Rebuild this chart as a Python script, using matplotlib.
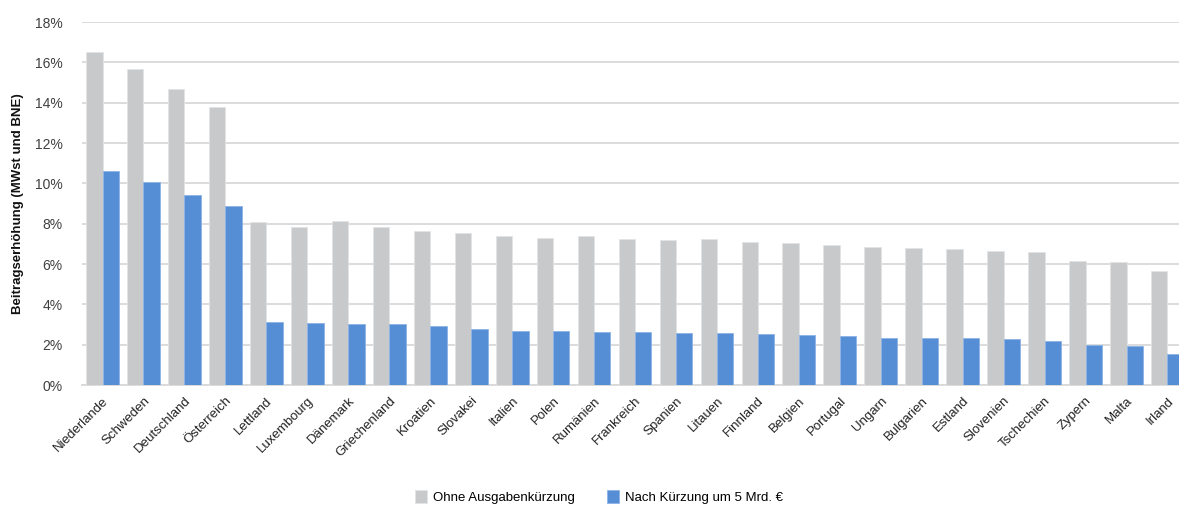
import numpy as np
import matplotlib
matplotlib.use("Agg")
import matplotlib.pyplot as plt
from matplotlib.ticker import FuncFormatter

plt.rcParams['font.family'] = ['Liberation Sans', 'DejaVu Sans']

countries = ['Niederlande', 'Schweden', 'Deutschland', 'Österreich', 'Lettland',
             'Luxembourg', 'Dänemark', 'Griechenland', 'Kroatien', 'Slovakei',
             'Italien', 'Polen', 'Rumänien', 'Frankreich', 'Spanien', 'Litauen',
             'Finnland', 'Belgien', 'Portugal', 'Ungarn', 'Bulgarien', 'Estland',
             'Slovenien', 'Tschechien', 'Zypern', 'Malta', 'Irland']

# Beitragserhöhung in %
ohne_kuerzung = [16.53, 15.65, 14.66, 13.78, 8.10, 7.82, 8.15, 7.84, 7.62, 7.54,
                 7.39, 7.30, 7.37, 7.24, 7.21, 7.24, 7.09, 7.02, 6.94, 6.84,
                 6.78, 6.74, 6.66, 6.59, 6.16, 6.11, 5.64]
nach_kuerzung = [10.61, 10.06, 9.42, 8.86, 3.14, 3.07, 3.02, 3.01, 2.93, 2.76,
                 2.68, 2.66, 2.63, 2.61, 2.58, 2.58, 2.51, 2.46, 2.43, 2.33,
                 2.33, 2.31, 2.26, 2.16, 1.96, 1.91, 1.53]

grey = '#C8C9CB'
blue = '#558ED5'

fig = plt.figure(figsize=(11.79, 5.07), dpi=100)
ax = fig.add_axes([0.0696, 0.2406, 0.938, 0.716])

x = np.arange(len(countries))
w = 0.4
ax.bar(x - w/2, ohne_kuerzung, w, color=grey, edgecolor='#E2E3E5', linewidth=0.6,
       label='Ohne Ausgabenkürzung', zorder=3)
ax.bar(x + w/2, nach_kuerzung, w, color=blue, edgecolor='#8DB4E6', linewidth=0.6,
       label='Nach Kürzung um 5 Mrd. €', zorder=3)

ax.set_xlim(-0.5, len(countries) - 0.5)
ax.set_ylim(0, 18)
ax.set_yticks(np.arange(0, 19, 2))
ax.yaxis.set_major_formatter(FuncFormatter(lambda v, p: f'{v:.0f}%'))
ax.grid(axis='y', color='#D9D9D9', linewidth=1.3, zorder=0)
ax.set_axisbelow(True)

for s in ['top', 'right', 'left']:
    ax.spines[s].set_visible(False)
ax.spines['bottom'].set_color('#D9D9D9')
ax.spines['bottom'].set_linewidth(1.3)

ax.set_xticks(x)
ax.set_xticklabels(countries, rotation=45, ha='right', rotation_mode='anchor',
                   fontsize=9.5, color='#222222')
ax.tick_params(axis='x', length=0, pad=7)
ax.tick_params(axis='y', length=0, pad=14, labelsize=10, labelcolor='#404040')

ax.set_ylabel('Beitragserhöhung (MWst und BNE)', fontsize=9.5, fontweight='bold',
              color='#111111', labelpad=8)

fig.legend(loc='center', bbox_to_anchor=(0.508, 0.02), ncol=2, frameon=False,
           fontsize=9.5, handlelength=0.9, handleheight=1.1, handletextpad=0.4,
           columnspacing=2.5)

fig.savefig('out.png', dpi=100)
